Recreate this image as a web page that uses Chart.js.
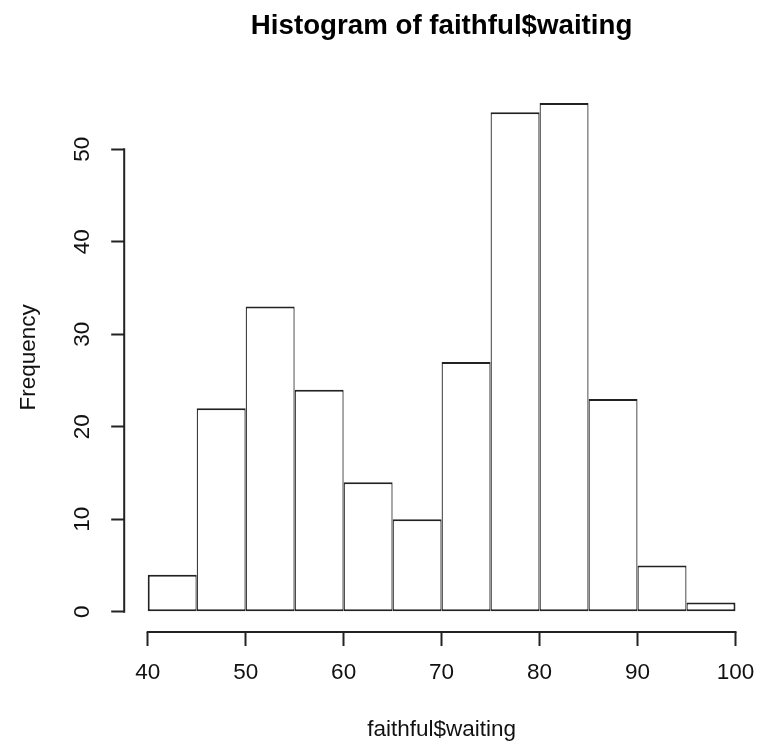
<!DOCTYPE html>
<html>
<head>
<meta charset="utf-8">
<script src="https://cdn.jsdelivr.net/npm/chart.js@4.4.1/dist/chart.umd.min.js"></script>
<style>
html,body{margin:0;padding:0;background:#fff;}
#wrap{width:759px;height:747px;position:relative;}
canvas{display:block;}
</style>
</head>
<body>
<div id="wrap"><canvas id="c" width="759" height="747"></canvas></div>
<script>
// ---- data ----
const breaks = [40, 45, 50, 55, 60, 65, 70, 75, 80, 85, 90, 95, 100];
const counts = [4, 22, 33, 24, 14, 10, 27, 54, 55, 23, 5, 1];
const xTickValues = [40, 50, 60, 70, 80, 90, 100];
const yTickValues = [0, 10, 20, 30, 40, 50];
const titleText = 'Histogram of faithful$waiting';
const xAxisLabel = 'faithful$waiting';
const yAxisLabel = 'Frequency';

// ---- styling ----
const FONT = '"Liberation Sans", Arial, Helvetica, sans-serif';
const INK = '#111111';
const LINE = '#222222';

const barData = counts.map((c, i) => ({ x: (breaks[i] + breaks[i + 1]) / 2, y: c }));

const rAxisLines = {
  id: 'rAxisLines',
  afterDraw(chart) {
    const { ctx, chartArea, scales } = chart;
    const xs = scales.x, ys = scales.y;
    ctx.save();
    ctx.strokeStyle = LINE;
    ctx.lineWidth = 2;
    ctx.beginPath();
    ctx.moveTo(xs.getPixelForValue(xTickValues[0]) - 1, chartArea.bottom);
    ctx.lineTo(xs.getPixelForValue(xTickValues[xTickValues.length - 1]) + 1, chartArea.bottom);
    ctx.moveTo(chartArea.left, ys.getPixelForValue(yTickValues[0]) + 1);
    ctx.lineTo(chartArea.left, ys.getPixelForValue(yTickValues[yTickValues.length - 1]) - 1);
    ctx.stroke();
    ctx.restore();
  }
};

new Chart(document.getElementById('c'), {
  type: 'bar',
  data: {
    datasets: [{
      data: barData,
      backgroundColor: '#ffffff',
      borderColor: LINE,
      borderWidth: (ctx) => ({
        left: ctx.dataIndex === 0 ? 2 : 1.25,
        right: ctx.dataIndex === counts.length - 1 ? 2 : 1.25,
        top: 2,
        bottom: 2
      }),
      borderSkipped: false,
      inflateAmount: 0,
      barPercentage: 1,
      categoryPercentage: 1
    }]
  },
  options: {
    responsive: false,
    devicePixelRatio: 1,
    animation: false,
    layout: { padding: 0, autoPadding: false },
    plugins: {
      legend: { display: false },
      tooltip: { enabled: false },
      title: {
        display: true,
        text: titleText,
        fullSize: false,
        color: '#000',
        font: { family: FONT, size: 27.7, weight: 'bold', lineHeight: 1.2 },
        padding: { top: 10.0, bottom: 39.4 }
      }
    },
    scales: {
      x: {
        type: 'linear',
        position: 'bottom',
        offset: false,
        min: 37.6,
        max: 102.4,
        afterBuildTicks(s) { s.ticks = xTickValues.map(v => ({ value: v })); },
        afterFit(s) { s.height = 115; s.paddingLeft = 0; s.paddingRight = 0; },
        border: { display: false },
        grid: {
          offset: false,
          drawOnChartArea: false,
          drawTicks: true,
          tickLength: 14,
          tickWidth: 2,
          tickColor: LINE
        },
        ticks: {
          color: INK,
          font: { family: FONT, size: 22.5, lineHeight: 1.2 },
          padding: 13.5,
          maxRotation: 0,
          minRotation: 0,
          autoSkip: false
        },
        title: {
          display: true,
          text: xAxisLabel,
          color: INK,
          font: { family: FONT, size: 22.5, lineHeight: 1.2 },
          padding: { top: 0, bottom: 3.3 }
        }
      },
      y: {
        type: 'linear',
        position: 'left',
        min: -2.2,
        max: 57.2,
        afterBuildTicks(s) { s.ticks = yTickValues.map(v => ({ value: v })); },
        afterFit(s) { s.width = 124.2; s.paddingTop = 0; s.paddingBottom = 0; },
        border: { display: false },
        grid: {
          drawOnChartArea: false,
          drawTicks: true,
          tickLength: 13,
          tickWidth: 2,
          tickColor: LINE
        },
        ticks: {
          color: INK,
          font: { family: FONT, size: 22.5, lineHeight: 1.2 },
          padding: 15.4,
          minRotation: 90,
          maxRotation: 90,
          crossAlign: 'center',
          autoSkip: false
        },
        title: {
          display: true,
          text: yAxisLabel,
          color: INK,
          font: { family: FONT, size: 22.5, lineHeight: 1.2 },
          padding: { top: 15.7, bottom: 0 }
        }
      }
    }
  },
  plugins: [rAxisLines]
});
</script>
</body>
</html>
